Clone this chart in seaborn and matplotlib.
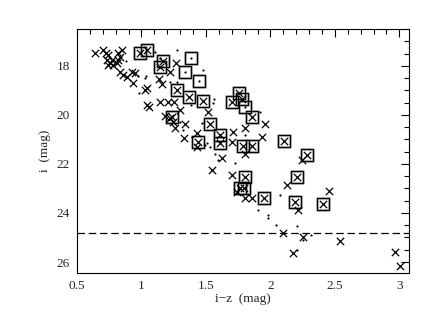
import matplotlib
matplotlib.use("Agg")
import matplotlib.pyplot as plt
import seaborn as sns
import pandas as pd
from matplotlib.ticker import MultipleLocator

# ---- data ----
cross_x = [0.640, 0.702, 0.725, 0.740, 0.733, 0.756, 0.740, 0.779, 0.810, 0.771,
           0.818, 0.833, 0.849, 0.818, 0.833, 0.857, 0.888, 0.926, 0.950, 0.934,
           1.027, 1.043, 1.043, 1.058, 1.136, 1.159, 1.143, 1.205, 1.252, 1.182,
           1.221, 1.244, 1.260, 1.267, 1.221, 1.298, 1.337, 1.329, 1.430, 1.430,
           1.516, 1.624, 1.547, 1.702, 1.702, 1.709, 1.957, 1.802, 1.934, 1.802,
           1.740, 1.802, 1.857, 2.128, 2.213, 2.453, 2.097, 2.252, 2.539, 2.174,
           2.965, 3.004, 2.244]
cross_y = [17.47, 17.35, 17.47, 17.55, 17.76, 17.88, 17.96, 17.96, 17.88, 17.76,
           17.47, 17.63, 17.35, 17.76, 18.24, 18.37, 18.45, 18.24, 18.29, 18.69,
           18.98, 18.90, 19.59, 19.67, 18.53, 18.73, 19.47, 19.47, 19.47, 20.04,
           20.12, 20.29, 20.53, 17.88, 18.24, 19.80, 20.37, 20.94, 20.73, 21.31,
           19.88, 21.76, 22.24, 22.45, 21.10, 20.69, 20.37, 20.53, 20.90, 21.59,
           23.14, 23.39, 23.39, 22.86, 23.88, 23.10, 24.82, 24.98, 25.14, 25.63,
           25.59, 26.16, 21.84]

box_x = [0.988, 1.043, 1.167, 1.143, 1.384, 1.337, 1.446, 1.275, 1.368, 1.477,
         1.236, 1.531, 1.609, 1.609, 1.438, 1.702, 1.756, 1.779, 1.802, 1.857,
         1.787, 1.857, 2.105, 2.283, 1.802, 2.205, 1.764, 1.795, 1.950, 2.190,
         2.407]
box_y = [17.47, 17.35, 17.80, 18.04, 17.67, 18.24, 18.61, 18.98, 19.27, 19.43,
         20.08, 20.37, 20.82, 21.14, 21.10, 19.47, 19.10, 19.35, 19.67, 20.08,
         21.27, 21.27, 21.06, 21.63, 22.53, 22.53, 22.98, 22.98, 23.39, 23.55,
         23.63]
# 1 = box contains a cross, 0 = box contains a dot
box_has_cross = [1, 1, 1, 1, 0, 0, 0, 1, 1, 1,
                 1, 1, 1, 1, 1, 1, 1, 1, 0, 1,
                 1, 1, 1, 1, 1, 1, 1, 1, 1, 1,
                 1]

dot_x = [0.880, 0.973, 1.027, 1.035, 0.981, 1.275, 1.384, 1.337, 1.446, 1.477,
         1.275, 1.221, 1.143, 1.105, 1.322, 1.298, 1.384, 1.554, 1.391, 1.570,
         1.531, 1.562, 1.919, 1.508, 1.802, 1.903, 1.981, 1.981, 2.043, 2.074,
         2.205, 2.314, 2.205, 2.252, 1.469, 1.492, 1.593, 1.725, 1.802]
dot_y = [17.80, 18.41, 18.49, 18.41, 19.10, 17.35, 17.67, 18.24, 18.61, 18.16,
         18.65, 18.65, 17.67, 17.43, 20.61, 20.29, 19.59, 19.51, 20.90, 21.59,
         21.31, 19.35, 19.88, 21.14, 20.82, 23.88, 24.08, 24.20, 24.49, 23.27,
         24.53, 24.90, 25.51, 25.10, 20.33, 21.22, 21.84, 21.96, 19.67]

limit_mag = 24.8
x_ticks = [0.5, 1, 1.5, 2, 2.5, 3]
x_ticklabels = ["0.5", "1", "1.5", "2", "2.5", "3"]
y_ticks = [18, 20, 22, 24, 26]
y_ticklabels = ["18", "20", "22", "24", "26"]

sns.set_theme(style="white")
plt.rcParams['font.family'] = ['Liberation Serif', 'DejaVu Serif']

fig = plt.figure(figsize=(4.23, 3.27), dpi=100)
ax = fig.add_axes([0.182, 0.165, 0.785, 0.746])

crosses = pd.DataFrame({"x": cross_x, "y": cross_y})
boxes = pd.DataFrame({"x": box_x, "y": box_y, "c": box_has_cross})
dots = pd.DataFrame({"x": dot_x, "y": dot_y})
box_crosses = boxes[boxes["c"] == 1]

# boxes: grey halo with a dark outline
sns.scatterplot(data=boxes, x="x", y="y", marker="s", s=80, facecolor="none",
                edgecolor="#8a8a8a", linewidth=1.8, ax=ax, zorder=2)
sns.scatterplot(data=boxes, x="x", y="y", marker="s", s=80, facecolor="none",
                edgecolor="black", linewidth=0.7, ax=ax, zorder=3)
sns.scatterplot(data=crosses, x="x", y="y", marker="x", s=28, color="black",
                linewidth=0.9, ax=ax, zorder=4)
sns.scatterplot(data=box_crosses, x="x", y="y", marker="x", s=28, color="black",
                linewidth=0.9, ax=ax, zorder=4)
sns.scatterplot(data=dots, x="x", y="y", marker="o", s=2.5, color="black",
                linewidth=0, ax=ax, zorder=4)

ax.axhline(limit_mag, color="black", linestyle=(0, (6, 3)), linewidth=0.9, zorder=1)

ax.set_xlim(0.5, 3.075)
ax.set_ylim(26.45, 16.5)
ax.set_xticks(x_ticks)
ax.set_xticklabels(x_ticklabels)
ax.set_yticks(y_ticks)
ax.set_yticklabels(y_ticklabels)
ax.xaxis.set_minor_locator(MultipleLocator(0.1))
ax.yaxis.set_minor_locator(MultipleLocator(0.5))
ax.tick_params(which="both", direction="in", top=True, right=True,
               color="black", width=0.8, labelsize=9.5, pad=5)
ax.tick_params(which="major", length=6)
ax.tick_params(which="minor", length=3.5)
for sp in ax.spines.values():
    sp.set_color("black")
    sp.set_linewidth(0.8)

ax.set_xlabel("i\u2212z  (mag)", fontsize=9.5, labelpad=1)
ax.set_ylabel("i  (mag)", fontsize=9.5, labelpad=4)

fig.savefig("out.png", dpi=100)
